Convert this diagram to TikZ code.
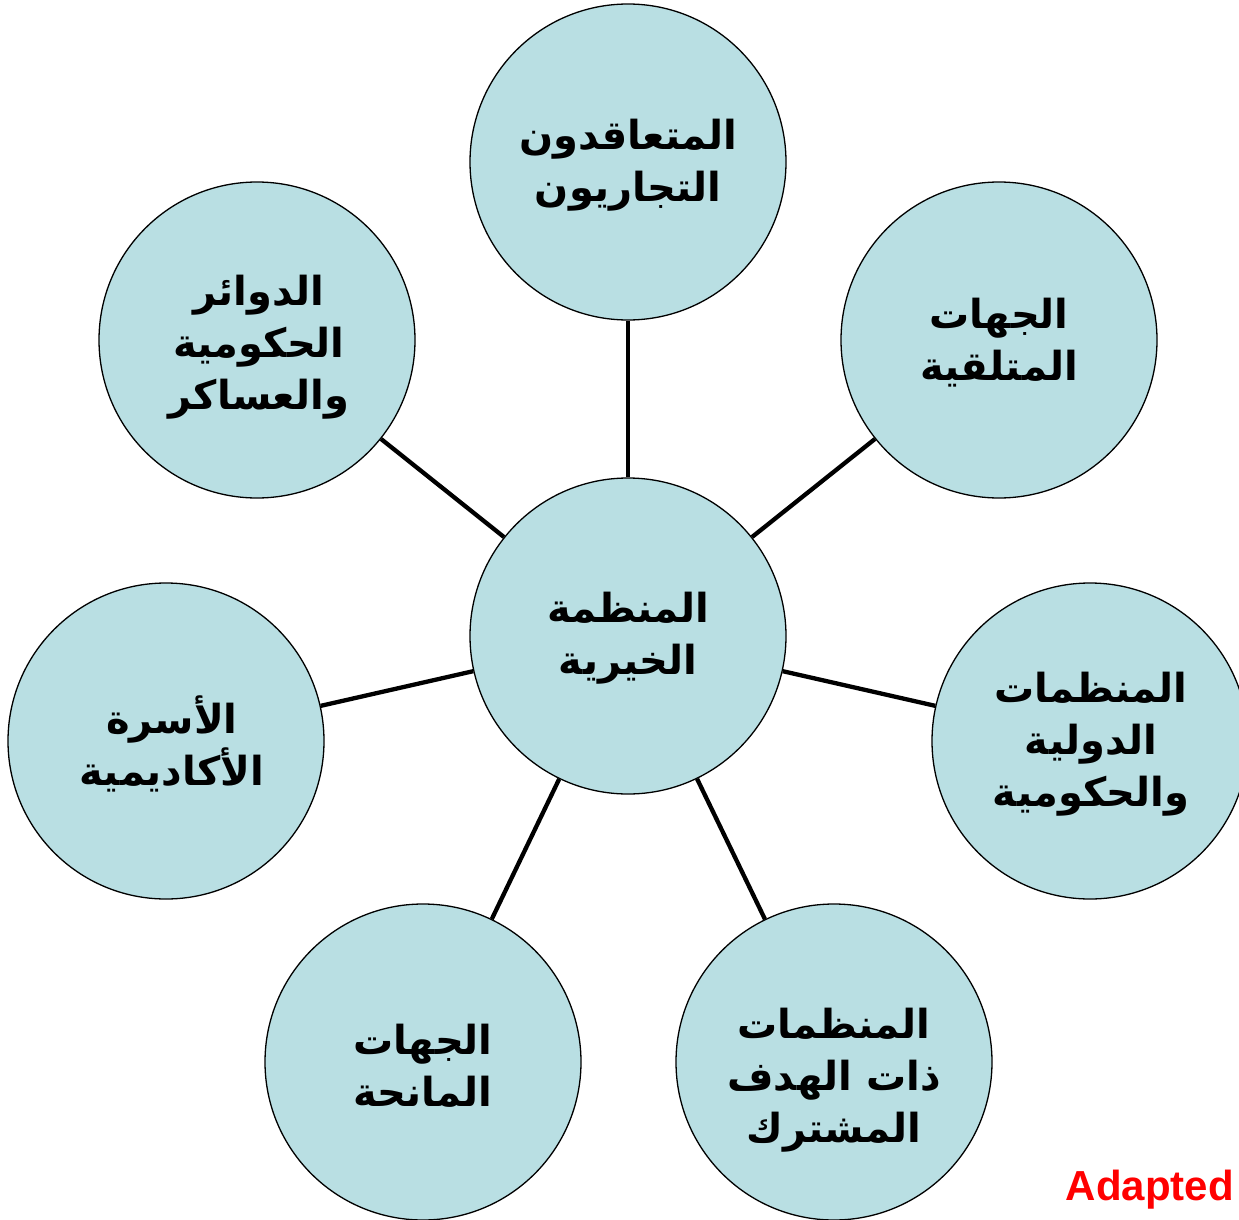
\documentclass[tikz,border=0pt]{standalone}
\usepackage{fontspec}
\setmainfont{Liberation Sans}
\newfontfamily\arabicfont[Script=Arabic,BoldFont={DejaVu Sans Bold}]{DejaVu Sans}
\TeXXeTstate=1
\newcommand{\arl}[1]{\beginR #1\endR}
\definecolor{circfill}{RGB}{185,223,227}
\definecolor{adred}{RGB}{255,0,0}
\tikzset{
  artext/.style={align=center, font=\arabicfont\bfseries\fontsize{40}{52}\selectfont},
  bubble/.style={circle, draw=black, line width=1.3pt, fill=circfill, minimum size=316pt, inner sep=0pt, artext},
  link/.style={line width=4.3pt, draw=black}
}
\begin{document}
\begin{tikzpicture}[x=1pt,y=-1pt]
\useasboundingbox (0,0) rectangle (1239,1220);
\node[bubble] (c)  at (628,636)  {};
\node[artext] (ct) at (628,638) {\arl{المنظمة}\\\arl{الخيرية}};
\node[bubble] (t)  at (628,162)  {};
\node[artext] (tt) at (628,165) {\arl{المتعاقدون}\\\arl{التجاريون}};
\node[bubble] (tr) at (999,340)  {};
\node[artext] (trt) at (999,343) {\arl{الجهات}\\\arl{المتلقية}};
\node[bubble] (r)  at (1090,741) {};
\node[artext] (rt) at (1091,744) {\arl{المنظمات}\\\arl{الدولية}\\\arl{والحكومية}};
\node[bubble] (br) at (834,1062) {};
\node[artext] (brt) at (834,1080) {\arl{المنظمات}\\\arl{ذات الهدف}\\\arl{المشترك}};
\node[bubble] (bl) at (423,1062) {};
\node[artext] (blt) at (423,1066) {\arl{الجهات}\\\arl{المانحة}};
\node[bubble] (l)  at (166,741)  {};
\node[artext] (lt) at (172,744) {\arl{الأسرة}\\\arl{الأكاديمية}};
\node[bubble] (tl) at (257,340)  {};
\node[artext] (tlt) at (259,347) {\arl{الدوائر}\\\arl{الحكومية}\\\arl{والعساكر}};
\foreach \n in {t,tr,r,br,bl,l,tl} \draw[link] (c) -- (\n);
\node[anchor=east, text=adred, font=\bfseries\fontsize{42}{45}\selectfont, inner sep=0pt] (adapted) at (1234,1190) {Adapted};
\end{tikzpicture}
\end{document}
